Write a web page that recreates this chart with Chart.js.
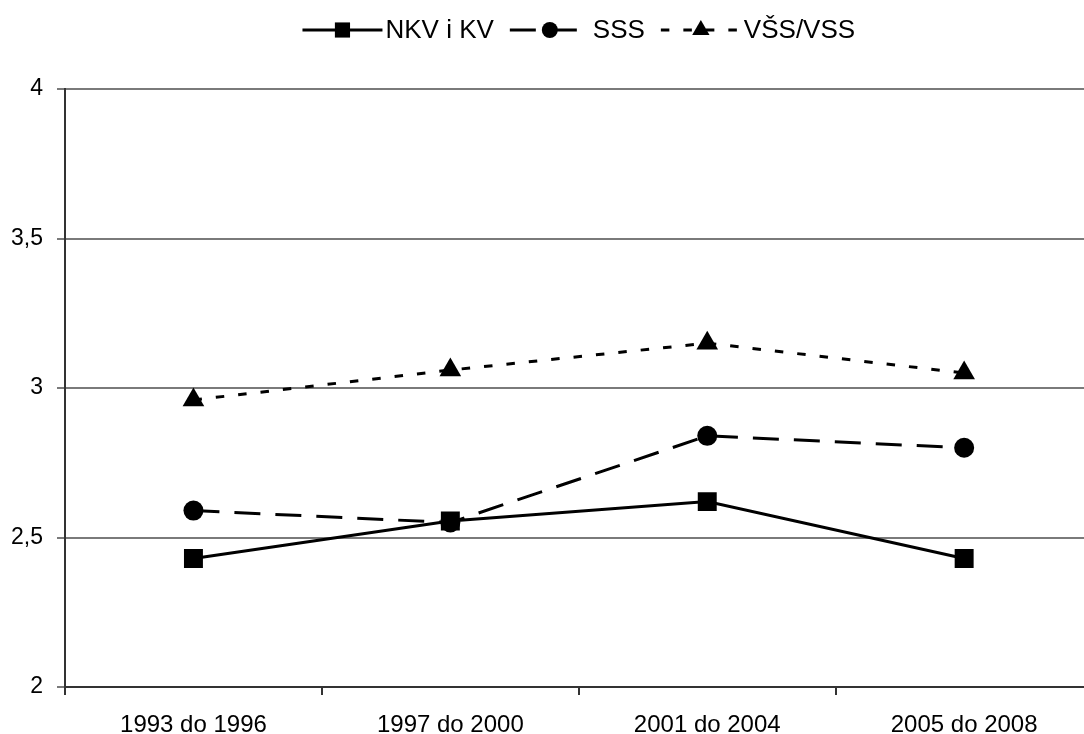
<!DOCTYPE html>
<html>
<head>
<meta charset="utf-8">
<script src="https://cdn.jsdelivr.net/npm/chart.js@4/dist/chart.umd.min.js"></script>
<style>
  html, body { margin: 0; padding: 0; background: #fff; overflow: hidden; }
  canvas { display: block; }
</style>
</head>
<body>
<canvas id="chart" width="1106" height="734"></canvas>
<script>
const periods = ["1993 do 1996", "1997 do 2000", "2001 do 2004", "2005 do 2008"];
const nkvKv = [2.43, 2.555, 2.62, 2.43];
const sss = [2.59, 2.55, 2.84, 2.80];
const vssVss = [2.96, 3.06, 3.15, 3.05];
const yTicks = [2, 2.5, 3, 3.5, 4];

const FONT = "'Liberation Sans', Arial, sans-serif";
Chart.defaults.font.family = FONT;
Chart.defaults.color = "#000";

// legend drawn as line + marker + text, like the original
const lineLegend = {
  id: "lineLegend",
  afterDraw(chart) {
    const ctx = chart.ctx;
    const sets = chart.data.datasets;
    const lineLen = 80, gap = 3, itemGap = 16;
    ctx.save();
    ctx.font = "26px " + FONT;
    ctx.textBaseline = "middle";
    const widths = sets.map(ds => ctx.measureText(ds.label).width);
    const total = sets.length * (lineLen + gap) + widths.reduce((a, b) => a + b, 0) + itemGap * (sets.length - 1);
    const area = chart.chartArea;
    let x = (area.left + area.right) / 2 - total / 2;
    const y = 30;
    sets.forEach((ds, i) => {
      ctx.strokeStyle = ds.borderColor;
      ctx.lineWidth = ds.borderWidth;
      ctx.setLineDash(ds.borderDash || []);
      ctx.beginPath();
      ctx.moveTo(x, y);
      ctx.lineTo(x + lineLen, y);
      ctx.stroke();
      ctx.setLineDash([]);
      ctx.fillStyle = ds.pointBackgroundColor;
      Chart.helpers.drawPoint(ctx, {
        pointStyle: ds.pointStyle,
        radius: ds.pointRadius * 0.8,
        rotation: 0,
        borderWidth: 0
      }, x + lineLen / 2, y);
      ctx.fillStyle = "#000";
      ctx.fillText(ds.label, x + lineLen + gap, y + 1);
      x += lineLen + gap + widths[i] + itemGap;
    });
    ctx.restore();
  }
};

function series(label, values, style, radius, dash) {
  return {
    label,
    data: values,
    borderColor: "#000",
    backgroundColor: "#000",
    pointBackgroundColor: "#000",
    pointBorderColor: "#000",
    borderWidth: 3,
    borderDash: dash,
    pointStyle: style,
    pointRadius: radius,
    pointBorderWidth: 0,
    tension: 0
  };
}

new Chart(document.getElementById("chart"), {
  type: "line",
  data: {
    labels: periods,
    datasets: [
      series("NKV i KV", nkvKv, "rect", 13.4, []),
      series("SSS", sss, "circle", 10, [26, 15]),
      series("VŠS/VSS", vssVss, "triangle", 12.5, [8.5, 14])
    ]
  },
  options: {
    responsive: false,
    animation: false,
    events: [],
    layout: { padding: { top: 89, right: 0, left: 0, bottom: 0 } },
    plugins: {
      legend: { display: false },
      tooltip: { enabled: false }
    },
    scales: {
      x: {
        offset: true,
        afterFit(scale) { scale.height = 47; },
        grid: {
          offset: true,
          drawOnChartArea: false,
          tickLength: 8,
          color: "#333",
          lineWidth: 2
        },
        border: { color: "#333", width: 2 },
        ticks: { font: { size: 24 }, padding: 16, maxRotation: 0, color: "#000" }
      },
      y: {
        min: 2,
        max: 4,
        afterFit(scale) { scale.width = 65; },
        afterBuildTicks(scale) { scale.ticks = yTicks.map(v => ({ value: v })); },
        grid: { color: "#7a7a7a", lineWidth: 2, tickLength: 8 },
        border: { color: "#333", width: 2 },
        ticks: {
          font: { size: 23 },
          padding: 14,
          color: "#000",
          callback: v => String(v).replace(".", ",")
        }
      }
    }
  },
  plugins: [lineLegend]
});
</script>
</body>
</html>
